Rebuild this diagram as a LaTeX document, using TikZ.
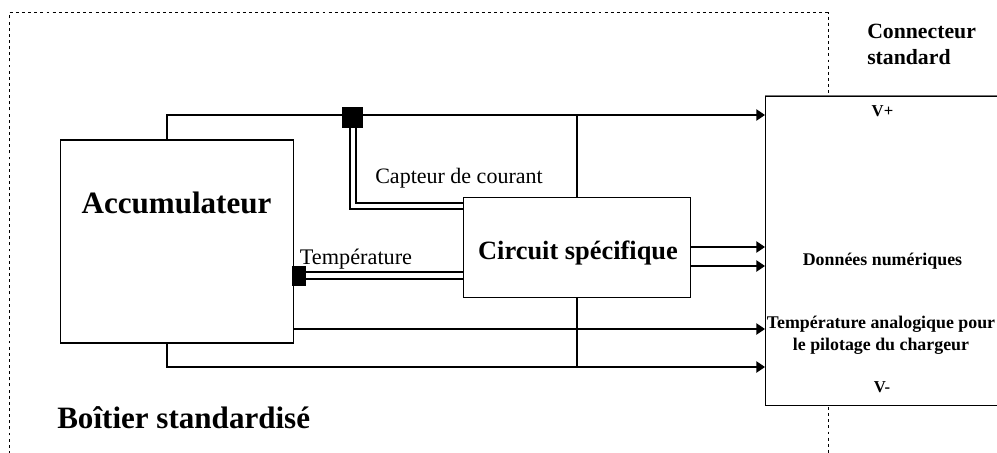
\documentclass[tikz,border=0pt]{standalone}
\usepackage{fontspec}
\setmainfont{Liberation Serif}
\usetikzlibrary{arrows.meta}
\newcommand{\fs}[2]{\fontsize{#1}{#2}\selectfont}
\definecolor{topgrey}{gray}{0.45}
\tikzset{
  x=0.75pt,y=-0.75pt,
  wire/.style={line width=1.1pt,black},
  arrowwire/.style={wire,-{Triangle[length=6.5pt,width=8.5pt]}},
  boxnode/.style={draw,line width=1.1pt,rectangle,inner sep=0pt,anchor=north west,fill=white},
  sensor/.style={fill=black,draw=none,rectangle,inner sep=0pt,anchor=north west},
  dots/.style={line width=0.75pt,dash pattern=on 2.2pt off 2.4pt},
  lbl/.style={inner sep=0pt,align=center},
}
\begin{document}
\begin{tikzpicture}
\clip (0,0) rectangle (997,453);
\fill[white] (0,0) rectangle (997,453);
% dotted enclosure
\draw[dots] (9,460) -- (9,13) -- (828,13) -- (828,95);
\draw[dots] (828,407) -- (828,460);
% boxes
\node[boxnode,minimum width=180pt,minimum height=232pt] (conn) at (765,95.5) {};
\draw[line width=1.3pt,topgrey] (conn.north west) -- (conn.north east);
\node[boxnode,minimum width=174.75pt,minimum height=152pt] (acc) at (60,139.5) {};
\node[boxnode,minimum width=170.25pt,minimum height=75pt] (circ) at (463,197) {};
\node[sensor,minimum width=15.75pt,minimum height=15.75pt] (si) at (342,107) {};
\node[sensor,minimum width=10.5pt,minimum height=15pt] (st) at (292,266) {};
% named connection points
\coordinate (aTop) at (167,139.5);
\coordinate (aBot) at (167,342);
\coordinate (cTop) at (577,197);
\coordinate (cBot) at (577,297);
\coordinate (vp) at (765,115);
\coordinate (vm) at (765,367);
\coordinate (d1) at (765,247);
\coordinate (d2) at (765,266);
\coordinate (ta) at (765,329);
\coordinate (iL) at (350,128);
\coordinate (iR) at (356,128);
\coordinate (iLe) at (463,209);
\coordinate (iRe) at (463,203);
\coordinate (tU) at (306,272);
\coordinate (tD) at (306,279);
% supply rails
\draw[arrowwire] (aTop) |- (vp);
\draw[arrowwire] (aBot) |- (vm);
\draw[wire] (cTop) -- (cTop |- vp);
\draw[wire] (cBot) -- (cBot |- vm);
% outputs
\draw[arrowwire] (circ.east |- d1) -- (d1);
\draw[arrowwire] (circ.east |- d2) -- (d2);
\draw[arrowwire] (acc.east |- ta) -- (ta);
% double sensor lines
\draw[wire] (iL) |- (iLe);
\draw[wire] (iR) |- (iRe);
\draw[wire] (tU) -- (tU -| circ.west);
\draw[wire] (tD) -- (tD -| circ.west);
% labels
\node[lbl,font=\fs{23.3}{28}\bfseries] (tacc) at (176.5,203) {Accumulateur};
\node[lbl,font=\fs{19.8}{24}\bfseries] (tcirc) at (578,253.5) {Circuit spécifique};
\node[lbl,font=\fs{23.3}{28}\bfseries,anchor=west] (tboit) at (57,418) {Boîtier standardisé};
\node[lbl,font=\fs{16.3}{19.5}\bfseries,anchor=north west,align=left] (tconn) at (867,24) {Connecteur\\standard};
\node[lbl,font=\fs{12.5}{15}\bfseries] (tvp) at (882.5,111) {V+};
\node[lbl,font=\fs{13.4}{16}\bfseries] (tnum) at (882.5,261) {Données numériques};
\node[lbl,font=\fs{13.4}{16.3}\bfseries,anchor=north] (tana) at (881,316) {Température analogique pour\\le pilotage du chargeur};
\node[lbl,font=\fs{12.5}{15}\bfseries] (tvm) at (882,387) {V-};
\node[lbl,font=\fs{16.5}{20}] (tcap) at (459,178) {Capteur de courant};
\node[lbl,font=\fs{16.7}{20}] (ttmp) at (356,259) {Température};
\end{tikzpicture}
\end{document}
